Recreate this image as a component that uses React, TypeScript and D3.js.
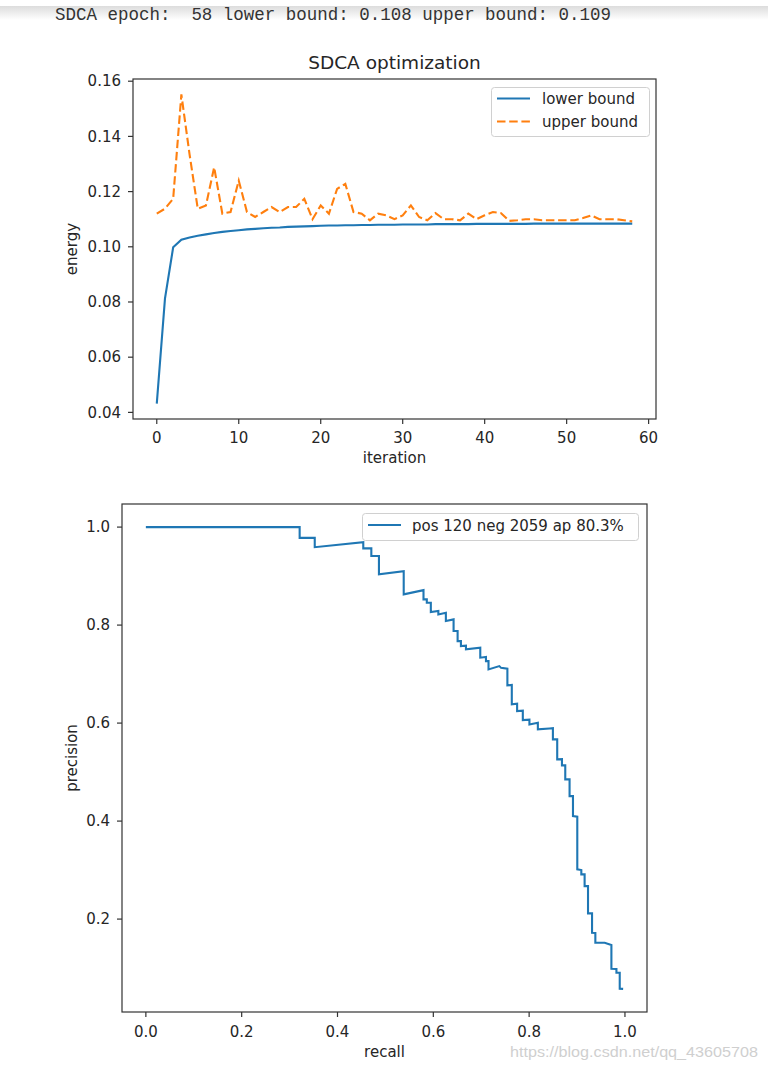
import React from "react";
import * as d3 from "d3";

// ---------- data ----------
const headerText = "SDCA epoch:  58 lower bound: 0.108 upper bound: 0.109";

const lowerBound = [
  0.0432, 0.0812, 0.0998, 0.1026, 0.1034, 0.104, 0.1045, 0.105, 0.1054, 0.1057,
  0.106, 0.1063, 0.1065, 0.1067, 0.1069, 0.107, 0.1072, 0.1073, 0.1074, 0.1075,
  0.1076, 0.1077, 0.1077, 0.1078, 0.1078, 0.1079, 0.1079, 0.108, 0.108, 0.108,
  0.1081, 0.1081, 0.1081, 0.1081, 0.1082, 0.1082, 0.1082, 0.1082, 0.1082, 0.1083,
  0.1083, 0.1083, 0.1083, 0.1083, 0.1083, 0.1083, 0.1084, 0.1084, 0.1084, 0.1084,
  0.1084, 0.1084, 0.1084, 0.1084, 0.1084, 0.1084, 0.1084, 0.1084, 0.1084,
];

const upperBound = [
  0.112, 0.1138, 0.1174, 0.1552, 0.1335, 0.1138, 0.115, 0.1288, 0.112, 0.1126,
  0.124, 0.1126, 0.1108, 0.1126, 0.1144, 0.1126, 0.1144, 0.1144, 0.1174, 0.11,
  0.115, 0.112, 0.121, 0.1228, 0.1126, 0.112, 0.1096, 0.112, 0.1114, 0.11,
  0.1114, 0.115, 0.1108, 0.1096, 0.1122, 0.11, 0.11, 0.1096, 0.112, 0.11,
  0.1114, 0.1126, 0.1122, 0.1094, 0.1096, 0.11, 0.11, 0.1096, 0.1096, 0.1096,
  0.1096, 0.1096, 0.1104, 0.1114, 0.11, 0.11, 0.11, 0.1096, 0.1092,
];

const energyTicks = [0.04, 0.06, 0.08, 0.1, 0.12, 0.14, 0.16];
const iterationTicks = [0, 10, 20, 30, 40, 50, 60];

const recall = [
  0.0, 0.321, 0.321, 0.3525, 0.3525, 0.4538, 0.4538, 0.4706, 0.4706, 0.4865,
  0.4865, 0.5382, 0.5382, 0.5795, 0.5795, 0.5864, 0.5864, 0.5948, 0.5948, 0.6105,
  0.6105, 0.6262, 0.6262, 0.6423, 0.6423, 0.6507, 0.6507, 0.6576, 0.6576, 0.6681,
  0.6681, 0.698, 0.698, 0.7099, 0.7099, 0.7152, 0.7152, 0.7378, 0.7414, 0.7546,
  0.7546, 0.7638, 0.7638, 0.7749, 0.7749, 0.7868, 0.7868, 0.8006, 0.8006, 0.8182,
  0.8182, 0.8425, 0.8496, 0.8496, 0.8586, 0.8586, 0.8685, 0.8685, 0.8754, 0.8754,
  0.8844, 0.8844, 0.8915, 0.8915, 0.9005, 0.9005, 0.9089, 0.9089, 0.9158, 0.9158,
  0.9229, 0.9229, 0.9313, 0.9313, 0.9382, 0.9382, 0.9577, 0.9717, 0.9717, 0.9822,
  0.9822, 0.9891, 0.9891, 0.9962,
];

const precision = [
  1.0, 1.0, 0.978, 0.978, 0.959, 0.969, 0.9565, 0.9565, 0.941, 0.941,
  0.9035, 0.91, 0.8627, 0.8714, 0.8524, 0.8524, 0.8457, 0.8457, 0.8265, 0.8286,
  0.8218, 0.8253, 0.8082, 0.8116, 0.7878, 0.7878, 0.7673, 0.7673, 0.7571, 0.758,
  0.7504, 0.7539, 0.7335, 0.735, 0.7265, 0.7265, 0.7096, 0.7163, 0.7127, 0.711,
  0.6769, 0.678, 0.6382, 0.6395, 0.6245, 0.6255, 0.6061, 0.607, 0.5973, 0.6008,
  0.5871, 0.589, 0.5895, 0.5667, 0.5667, 0.5259, 0.5265, 0.5137, 0.514, 0.4851,
  0.4851, 0.451, 0.451, 0.4102, 0.409, 0.3014, 0.3, 0.2912, 0.2912, 0.2673,
  0.2673, 0.2116, 0.2116, 0.1722, 0.1715, 0.1518, 0.1518, 0.147, 0.0988, 0.098,
  0.0906, 0.0906, 0.058, 0.0575,
];

const precisionTicks = [0.2, 0.4, 0.6, 0.8, 1.0];
const recallTicks = [0.0, 0.2, 0.4, 0.6, 0.8, 1.0];

const prLabel = "pos 120 neg 2059 ap 80.3%";

// ---------- helpers ----------
const BLUE = "#1f77b4";
const ORANGE = "#ff7f0e";
const FONT = "'DejaVu Sans', sans-serif";
const TEXT = "#262626";
const SPINE = "#333";
const LW = 2.1;

function padDomain(vals: number[]): [number, number] {
  const [lo, hi] = d3.extent(vals) as [number, number];
  const m = (hi - lo) * 0.05;
  return [lo - m, hi + m];
}

function Frame({ x0, x1, y0, y1 }: { x0: number; x1: number; y0: number; y1: number }) {
  return (
    <rect x={x0} y={y0} width={x1 - x0} height={y1 - y0} fill="none" stroke={SPINE} strokeWidth={1.2} />
  );
}

export default function App() {
  // ----- top chart -----
  const T = { left: 133, right: 656, top: 79, bottom: 419 };
  const iters = lowerBound.map((_, i) => i);
  const xTop = d3.scaleLinear().domain(padDomain(iters)).range([T.left, T.right]);
  const yTop = d3
    .scaleLinear()
    .domain(padDomain([...lowerBound, ...upperBound]))
    .range([T.bottom, T.top]);
  const lineTop = d3
    .line<number>()
    .x((_, i) => xTop(i))
    .y((d) => yTop(d));

  // ----- bottom chart -----
  const B = { left: 122, right: 647, top: 504, bottom: 1012 };
  const xBot = d3.scaleLinear().domain(padDomain(recall)).range([B.left, B.right]);
  const yBot = d3.scaleLinear().domain(padDomain(precision)).range([B.bottom, B.top]);
  const prLine = d3
    .line<number>()
    .x((_, i) => xBot(recall[i]))
    .y((d) => yBot(d));

  const tickLen = 5;

  return (
    <svg
      width={768}
      height={1070}
      viewBox="0 0 768 1070"
      style={{ position: "absolute", left: 0, top: 0, display: "block", background: "#fff" }}
    >
      <defs>
        <linearGradient id="shadow" x1="0" y1="0" x2="0" y2="1">
          <stop offset="0" stopColor="#dcdcdc" />
          <stop offset="1" stopColor="#ffffff" />
        </linearGradient>
      </defs>
      <rect x={0} y={0} width={768} height={1070} fill="#fff" />
      <rect x={0} y={6} width={768} height={14} fill="url(#shadow)" />
      <text
        x={55}
        y={20}
        fontFamily="'Liberation Mono', monospace"
        fontSize={18}
        fill="#333"
        textLength={556}
        lengthAdjust="spacingAndGlyphs"
        style={{ whiteSpace: "pre" }}
      >
        {headerText}
      </text>

      {/* ===== Top chart ===== */}
      <g fontFamily={FONT} fill={TEXT}>
        <text x={(T.left + T.right) / 2} y={T.top - 16} fontSize={18.5} textAnchor="middle" dy="0.35em">
          SDCA optimization
        </text>
        {energyTicks.map((t) => (
          <g key={"ey" + t}>
            <line x1={T.left - tickLen} x2={T.left} y1={yTop(t)} y2={yTop(t)} stroke={SPINE} strokeWidth={1.2} />
            <text x={T.left - 12} y={yTop(t)} dy="0.35em" fontSize={15} textAnchor="end">
              {t.toFixed(2)}
            </text>
          </g>
        ))}
        {iterationTicks.map((t) => (
          <g key={"ex" + t}>
            <line x1={xTop(t)} x2={xTop(t)} y1={T.bottom} y2={T.bottom + tickLen} stroke={SPINE} strokeWidth={1.2} />
            <text x={xTop(t)} y={T.bottom + 19} dy="0.35em" fontSize={15} textAnchor="middle">
              {t}
            </text>
          </g>
        ))}
        <text x={(T.left + T.right) / 2} y={T.bottom + 39} dy="0.35em" fontSize={15} textAnchor="middle">
          iteration
        </text>
        <text
          transform={`translate(72, ${(T.top + T.bottom) / 2}) rotate(-90)`}
          dy="0.35em"
          fontSize={15}
          textAnchor="middle"
        >
          energy
        </text>
      </g>
      <path d={lineTop(lowerBound) || ""} fill="none" stroke={BLUE} strokeWidth={LW} />
      <path d={lineTop(upperBound) || ""} fill="none" stroke={ORANGE} strokeWidth={LW} strokeDasharray="8.5,3.7" />
      <Frame x0={T.left} x1={T.right} y0={T.top} y1={T.bottom} />
      {/* legend */}
      <g fontFamily={FONT} fill={TEXT}>
        <rect x={491.5} y={87.5} width={158} height={49} rx={3} fill="#fff" fillOpacity={0.8} stroke="#d0d0d0" strokeWidth={1} />
        <line x1={497} x2={530} y1={98.5} y2={98.5} stroke={BLUE} strokeWidth={LW} />
        <text x={542} y={99} dy="0.35em" fontSize={15}>lower bound</text>
        <line x1={497} x2={530} y1={121.5} y2={121.5} stroke={ORANGE} strokeWidth={LW} strokeDasharray="8.5,3.7" />
        <text x={542} y={122} dy="0.35em" fontSize={15}>upper bound</text>
      </g>

      {/* ===== Bottom chart ===== */}
      <g fontFamily={FONT} fill={TEXT}>
        {precisionTicks.map((t) => (
          <g key={"py" + t}>
            <line x1={B.left - tickLen} x2={B.left} y1={yBot(t)} y2={yBot(t)} stroke={SPINE} strokeWidth={1.2} />
            <text x={B.left - 12} y={yBot(t)} dy="0.35em" fontSize={15} textAnchor="end">
              {t.toFixed(1)}
            </text>
          </g>
        ))}
        {recallTicks.map((t) => (
          <g key={"px" + t}>
            <line x1={xBot(t)} x2={xBot(t)} y1={B.bottom} y2={B.bottom + tickLen} stroke={SPINE} strokeWidth={1.2} />
            <text x={xBot(t)} y={B.bottom + 20} dy="0.35em" fontSize={15} textAnchor="middle">
              {t.toFixed(1)}
            </text>
          </g>
        ))}
        <text x={(B.left + B.right) / 2} y={B.bottom + 40} dy="0.35em" fontSize={15} textAnchor="middle">
          recall
        </text>
        <text
          transform={`translate(72, ${(B.top + B.bottom) / 2}) rotate(-90)`}
          dy="0.35em"
          fontSize={15}
          textAnchor="middle"
        >
          precision
        </text>
      </g>
      <path d={prLine(precision) || ""} fill="none" stroke={BLUE} strokeWidth={LW} strokeLinejoin="miter" />
      <Frame x0={B.left} x1={B.right} y0={B.top} y1={B.bottom} />
      <g fontFamily={FONT} fill={TEXT}>
        <rect x={362.5} y={513.5} width={276} height={27} rx={3} fill="#fff" fillOpacity={0.8} stroke="#d0d0d0" strokeWidth={1} />
        <line x1={368} x2={401} y1={525} y2={525} stroke={BLUE} strokeWidth={LW} />
        <text x={412} y={526} dy="0.35em" fontSize={15}>{prLabel}</text>
      </g>

      <text
        x={510}
        y={1052}
        dy="0.35em"
        fontFamily="'Liberation Sans', Arial, sans-serif"
        fontSize={15}
        fill="#cfcfcf"
        textLength={248}
        lengthAdjust="spacingAndGlyphs"
      >
        https://blog.csdn.net/qq_43605708
      </text>
    </svg>
  );
}
